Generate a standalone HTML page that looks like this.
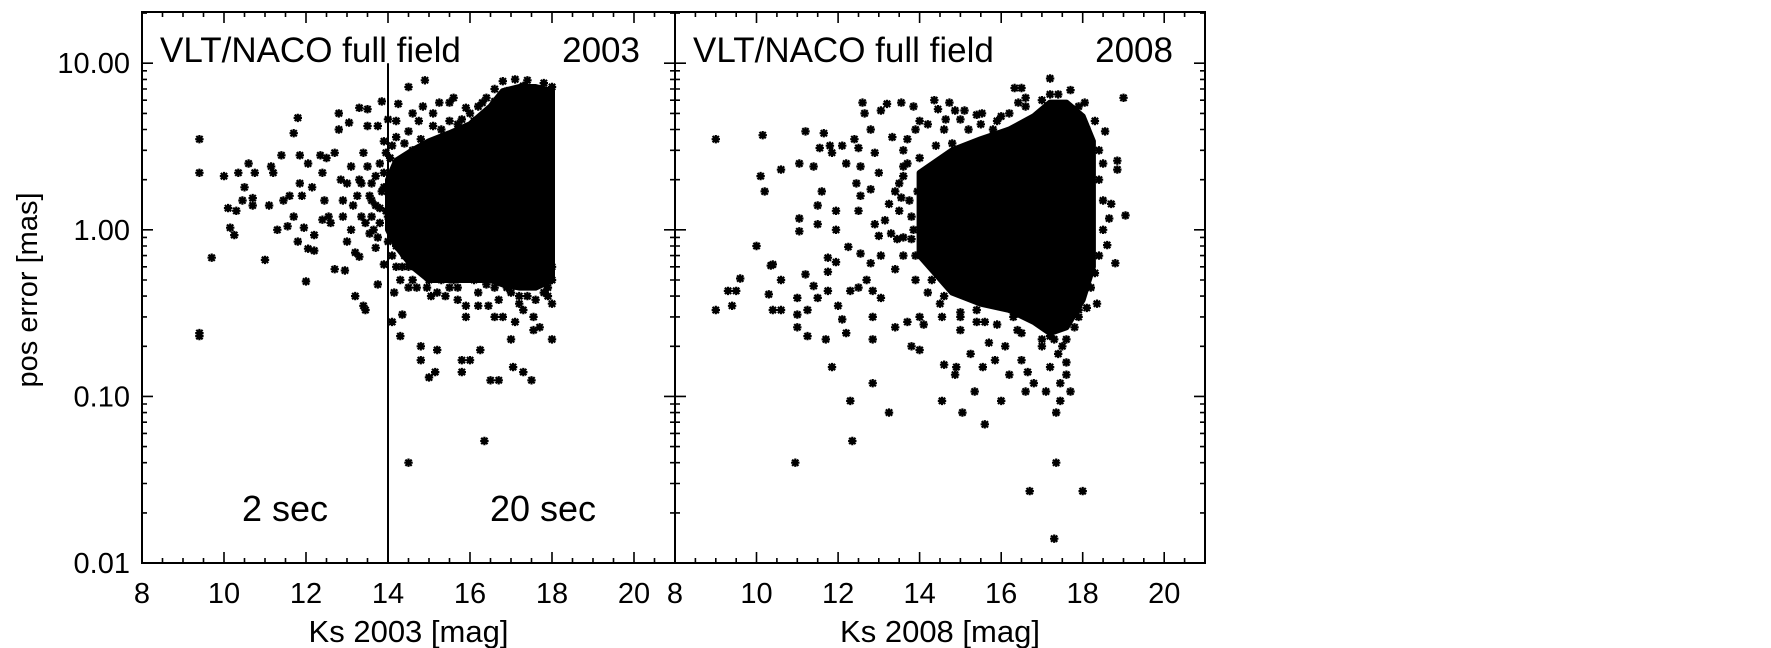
<!DOCTYPE html>
<html><head><meta charset="utf-8">
<style>
html,body{margin:0;padding:0;background:#fff;}
svg{display:block;font-family:"Liberation Sans",Arial,sans-serif;}
</style></head>
<body>
<svg id="chart" width="1771" height="648" viewBox="0 0 1771 648" xmlns="http://www.w3.org/2000/svg">
<rect width="1771" height="648" fill="#fff"/>
<g id="layer"></g>
</svg>
<script>
// ---- data ----
const xTicks = [8, 10, 12, 14, 16, 18, 20];
const yTicks = [0.01, 0.1, 1, 10];
const yTickLabels = ["0.01", "0.10", "1.00", "10.00"];

// 2003 scattered points [Ks, pos error mas]
const pts2003 = [
[9.4,3.5],[9.4,2.2],[9.4,0.24],[9.4,0.23],[9.7,0.68],[10,2.1],[10.1,1.35],[10.15,1.03],[10.25,0.93],[10.3,1.3],
[10.35,2.2],[10.45,1.5],[10.5,1.8],[10.6,2.5],[10.7,1.55],[10.75,2.2],[10.7,1.4],[11,0.66],[11.1,1.4],[11.15,2.4],
[11.2,2.2],[11.3,1.0],[11.4,2.8],[11.45,1.5],[11.55,1.05],[11.6,1.6],[11.7,3.8],[11.7,1.2],[11.8,0.85],[11.8,4.7],
[11.85,2.8],[11.85,1.9],[11.9,1.6],[11.95,1.03],[12.0,0.49],[12.05,2.5],[12.05,0.77],[12.15,1.8],[12.2,0.93],[12.2,0.75],
[12.35,2.8],[12.4,1.15],[12.4,2.2],[12.45,1.5],[12.5,2.7],[12.55,1.2],[12.6,1.1],[12.7,2.9],[12.7,0.58],[12.8,5.0],
[12.8,4.0],[12.85,2.0],[12.9,1.2],[12.95,0.57],[13.0,1.9],[13.0,0.85],[13.05,4.4],[13.1,1.0],[13.15,1.4],[13.2,0.73],
[13.2,0.4],[13.3,5.4],[13.3,2.0],[13.3,0.69],[13.35,1.9],[13.35,1.2],[13.4,2.9],[13.4,0.35],[13.45,0.33],[13.5,5.3],
[13.5,4.2],[13.55,0.95],[13.6,1.2],[13.6,1.9],[13.7,0.78],[13.7,1.4],[13.75,4.2],[13.7,2.1],[13.75,0.47],[13.8,1.1],
[13.8,2.5],[13.85,5.9],[13.85,1.7],[13.9,0.62],[13.9,3.4],[13.95,1.3],[13.95,2.9],[14.0,4.6],[14,0.85],[13.6,1.5],
[13.65,1.0],[13.8,1.35],[13.9,2.2],[13.5,2.4],[13.55,1.6],[13.25,1.6],[13.1,2.4],[12.9,1.5],[13.45,1.1],[13.75,0.9],
[14.05,2.7],[14.1,0.28],[14.15,0.42],[14.2,4.5],[14.2,0.6],[14.25,5.7],[14.3,0.5],[14.3,0.23],[14.35,0.31],[14.4,0.7],
[14.5,7.2],[14.5,0.45],[14.6,5.0],[14.65,0.6],[14.7,0.45],[14.75,4.5],[14.8,0.2],[14.8,0.165],[14.85,5.5],[14.9,7.9],
[14.95,0.45],[15.0,0.13],[15.05,0.4],[15.1,5.0],[15.15,0.14],[15.2,0.19],[15.25,5.8],[15.3,0.5],[15.4,0.4],[15.5,5.8],
[15.5,0.45],[15.6,6.2],[15.7,4.3],[15.7,0.38],[15.8,0.14],[15.8,0.165],[15.9,0.35],[15.9,0.3],[16.0,0.165],[16.0,5.0],
[16.1,4.5],[16.2,0.35],[16.25,0.19],[16.3,5.8],[16.3,0.54],[16.35,0.054],[16.4,0.47],[16.45,0.35],[16.5,0.125],[16.6,0.3],
[16.7,0.125],[16.8,0.3],[16.9,0.45],[17.0,0.22],[17.05,0.15],[17.1,0.28],[17.2,0.36],[17.3,0.14],[17.3,0.33],[17.5,0.125],
[17.55,0.25],[17.55,0.3],[17.7,0.26],[18.0,0.22],[18.0,0.36],[14.5,0.04],[14.3,1.5],[14.1,1.8],[14.0,1.2],[13.9,1.8],
[14.4,3.3],[14.8,3.5],[15.3,4],[15.8,4.6],[16.2,5.5],[16.6,7],[16.8,7.8],[17.1,8],[17.4,7.9],[17.8,7.6],[18,7.2],
[14.1,3.2],[14.3,2.6],[14.6,3.0],[15.0,3.3],[15.4,3.6],[16.0,4.0],[16.4,6.2],[14.2,0.8],[14.5,0.6],[15.0,0.5],
[15.6,0.5],[16.1,0.5],[16.6,0.45],[17.0,0.42],[17.4,0.4],[17.8,0.42],[18,0.5],[17.9,0.45],[18,0.6],[15.2,0.55],
[14.2,3.6],[14.5,3.9],[14.7,2.8],[15.1,4.2],[15.5,4.5],[15.9,5.4],[16.4,4.8],[16.6,5.9],[14.4,2.2],[14.9,2.9],
[15.3,3.1],[14.1,0.7],[14.35,0.6],[14.6,0.5],[15.2,0.42],[15.7,0.45],[16.2,0.42],[16.7,0.38],[17.2,0.4],[17.6,0.38],
[17.9,0.4],[16.9,6.8],[17.3,7.3],[17.6,6.9],[17.95,6.5]
];
// 2003 dense core envelope
const core2003X  = [14.0, 14.2, 14.6, 15.0, 15.5, 16.0, 16.5, 16.8, 17.2, 17.6, 18.0];
const core2003Hi = [2.0,  2.6,  3.0,  3.4,  3.8,  4.3,  5.5,  6.8,  7.2,  7.2,  6.8];
const core2003Lo = [1.0,  0.8,  0.6,  0.5,  0.5,  0.5,  0.5,  0.47, 0.45, 0.45, 0.5];

// 2008 scattered points
const pts2008 = [
[9.0,3.5],[10.15,3.7],[11.2,3.9],[11.65,3.8],[10.1,2.1],[10.2,1.7],[10.6,2.3],[11.05,2.5],[11.4,2.4],[11.55,3.1],
[11.8,3.2],[11.85,2.9],[12.1,3.2],[12.2,2.5],[12.4,3.5],[12.5,3.1],[12.55,2.4],[12.6,5.8],[12.65,5.0],[12.8,4.0],
[12.9,2.9],[13.0,2.2],[11.6,1.7],[11.95,1.3],[11.95,1.0],[11.5,1.4],[11.5,1.08],[11.05,1.17],[11.05,0.98],[12.45,1.9],
[12.55,1.6],[12.5,1.3],[12.8,1.75],[12.9,1.08],[10.0,0.8],[10.35,0.61],[10.4,0.62],[9.6,0.51],[9.3,0.43],[9.5,0.43],
[9.4,0.35],[9.0,0.33],[10.3,0.41],[10.4,0.33],[10.6,0.33],[10.6,0.5],[11.0,0.31],[11.0,0.39],[11.25,0.33],[11.0,0.26],
[11.25,0.23],[11.7,0.22],[11.2,0.54],[11.75,0.68],[11.95,0.64],[11.75,0.56],[11.75,0.43],[11.4,0.46],[11.5,0.39],[12.0,0.35],
[12.1,0.29],[12.2,0.24],[11.85,0.15],[12.85,0.12],[12.3,0.094],[13.25,0.08],[12.35,0.054],[10.95,0.04],[12.25,0.79],[12.55,0.72],
[12.8,0.63],[12.3,0.43],[12.5,0.45],[12.7,0.5],[12.85,0.43],[13.05,0.39],[12.85,0.3],[12.85,0.22],[13.4,0.26],[13.7,0.28],
[14.0,0.3],[14.1,0.27],[13.8,0.2],[14.0,0.19],[13.0,0.92],[13.45,0.88],[13.8,0.88],[13.05,0.7],[13.4,0.58],[13.15,1.14],
[13.25,1.43],[13.55,1.56],[13.95,1.7],[13.6,2.1],[13.05,5.2],[13.2,5.7],[13.55,5.8],[13.85,5.5],[14.0,4.5],[13.33,3.6],
[13.6,3.0],[14.0,2.7],[14.36,6.0],[14.45,5.3],[14.73,5.8],[14.87,5.2],[14.64,4.6],[15.1,5.2],[15.4,4.9],[15.53,5.0],
[15.9,4.5],[16.2,5.0],[16.33,7.1],[16.5,7.1],[16.42,5.8],[17.2,8.1],[17.7,6.9],[18.05,5.8],[19.0,6.2],[18.55,3.9],
[18.85,2.6],[18.85,2.3],[19.05,1.22],[18.7,1.43],[18.65,1.17],[18.8,0.63],[18.6,0.81],[18.35,0.36],[18.1,0.34],[14.55,0.3],
[14.6,0.155],[14.87,0.135],[14.9,0.15],[15.0,0.25],[15.25,0.18],[15.55,0.15],[15.85,0.165],[16.2,0.135],[16.5,0.165],[16.65,0.14],
[16.8,0.12],[17.1,0.107],[17.45,0.094],[17.7,0.107],[17.6,0.135],[16.6,0.107],[17.2,0.23],[17.3,0.22],[17.6,0.22],[17.8,0.26],
[16.8,0.3],[16.4,0.25],[16.1,0.2],[15.7,0.21],[15.4,0.33],[15.35,0.107],[16.0,0.094],[14.55,0.094],[15.05,0.08],[15.6,0.068],
[17.35,0.08],[17.35,0.04],[16.7,0.027],[18.0,0.027],[17.3,0.014],[14.2,1.2],[14.1,0.8],[14.3,0.5],[14.2,2.2],[13.8,1.2],
[13.6,0.7],[13.9,0.5],[14.4,3.2],[14.8,3.3],[15.2,4.0],[15.8,4.0],[16.6,5.5],[17.0,6.0],[17.4,6.5],[17.9,5.5],
[18.3,4.5],[18.4,3.0],[18.4,2.0],[18.5,1.0],[18.4,0.7],[18.2,0.45],[17.9,0.3],[17.4,0.18],[17.0,0.2],[16.3,0.3],
[15.6,0.28],[15.0,0.32],[14.6,0.4],[14.4,0.6],[13.5,1.3],[13.3,0.95],[13.7,2.5],[17.6,0.16],[17.45,0.12],[17.2,0.15],
[13.7,3.5],[13.9,4.0],[14.2,4.3],[14.6,4.0],[15.0,4.6],[15.5,4.3],[16.0,4.8],[16.6,6.2],[17.2,6.5],[17.8,5.0],
[18.1,4.0],[13.5,1.9],[13.75,1.5],[13.85,1.0],[13.6,0.9],[13.9,0.7],[14.2,0.42],[14.5,0.36],[15.0,0.3],[15.4,0.28],
[15.9,0.27],[16.5,0.24],[17.0,0.22],[17.5,0.2],[17.9,0.33],[18.3,0.55],[18.5,1.5],[18.5,2.5],[13.4,1.7],[13.6,2.4]
];
// 2008 dense core envelope
const core2008X  = [14.0, 14.8, 15.5, 16.2, 16.8, 17.2, 17.6, 18.0, 18.25];
const core2008Hi = [2.2,  3.0,  3.5,  4.0,  4.8,  5.8,  5.8,  4.8,  3.4];
const core2008Lo = [0.7,  0.42, 0.36, 0.33, 0.28, 0.24, 0.26, 0.38, 0.6];

// ---- layout ----
const NS = "http://www.w3.org/2000/svg";
const layer = document.getElementById('layer');
const topY = 12, bot = 563;
const yMinLog = -2, yMaxLog = Math.log10(20.3);
function Y(v){ return bot - (Math.log10(v) - yMinLog) / (yMaxLog - yMinLog) * (bot - topY); }
function mkX(x0, x1){ return v => x0 + (v - 8) / 13 * (x1 - x0); }
function el(tag, attrs, parent){ const e = document.createElementNS(NS, tag); for (const k in attrs) e.setAttribute(k, attrs[k]); (parent||layer).appendChild(e); return e; }

const panels = [
  {x0:142, x1:675, pts:pts2003, cx:core2003X, chi:core2003Hi, clo:core2003Lo, year:"2003", name:"panel-2003"},
  {x0:675, x1:1205, pts:pts2008, cx:core2008X, chi:core2008Hi, clo:core2008Lo, year:"2008", name:"panel-2008"}
];

panels.forEach((p, pi) => {
  const X = mkX(p.x0, p.x1);
  const g = el('g', {});
  
  
  let d = '';
  p.cx.forEach((v,i)=>{ d += (i?'L':'M') + X(v).toFixed(1) + ' ' + Y(p.chi[i]).toFixed(1); });
  for (let i = p.cx.length-1; i >= 0; i--) d += 'L' + X(p.cx[i]).toFixed(1) + ' ' + Y(p.clo[i]).toFixed(1);
  d += 'Z';
  const core = el('path', {d:d, fill:'#000', stroke:'#000', 'stroke-width':6, 'stroke-linejoin':'round'}, g);
  
  
  let pd = '';
  const r = 4.2;
  p.pts.forEach(([m, e]) => {
    const cx = X(m), cy = Y(e);
    pd += `M${(cx-r).toFixed(1)} ${cy.toFixed(1)}h${2*r}M${cx.toFixed(1)} ${(cy-r).toFixed(1)}v${2*r}` +
          `M${(cx-r*0.75).toFixed(1)} ${(cy-r*0.75).toFixed(1)}l${1.5*r} ${1.5*r}M${(cx-r*0.75).toFixed(1)} ${(cy+r*0.75).toFixed(1)}l${1.5*r} ${-1.5*r}`;
  });
  const sc = el('path', {d:pd, stroke:'#000', 'stroke-width':2.2, fill:'none'}, g);
  
  
  const fr = el('rect', {x:p.x0, y:topY, width:p.x1-p.x0, height:bot-topY, fill:'none', stroke:'#000', 'stroke-width':2}, g);
  
  
  let td = '';
  for (let v = 8.5; v < 21; v += 0.5) {
    const L = (Math.abs(v % 2) < 1e-6) ? 11 : 5;
    const x = X(v);
    td += `M${x.toFixed(1)} ${bot}v${-L}M${x.toFixed(1)} ${topY}v${L}`;
  }
  for (let dec = -2; dec <= 1; dec++) {
    for (let k = 1; k <= 9; k++) {
      const v = k * Math.pow(10, dec);
      if (Math.log10(v) > yMaxLog) break;
      const L = k === 1 ? 11 : 5;
      const y = Y(v);
      td += `M${p.x0} ${y.toFixed(1)}h${L}M${p.x1} ${y.toFixed(1)}h${-L}`;
    }
  }
  const tk = el('path', {d:td, stroke:'#000', 'stroke-width':1.6, fill:'none'}, g);
  
  
  xTicks.forEach(v => {
    const t = el('text', {x:X(v), y:603, 'font-size':29, 'text-anchor':'middle'}, g);
    t.textContent = v;
    
    
  });
  const xt = el('text', {x:(p.x0+p.x1)/2, y:642, 'font-size':31, 'text-anchor':'middle'}, g);
  xt.textContent = 'Ks ' + p.year + ' [mag]';
  
  
  const t1 = el('text', {x:p.x0+18, y:62, 'font-size':35}, g);
  t1.textContent = 'VLT/NACO full field';
  
  
  const t2 = el('text', {x:p.x0+498, y:62, 'font-size':35, 'text-anchor':'end'}, g);
  t2.textContent = p.year;
  
  
});

yTicks.forEach((v,i) => {
  const t = el('text', {x:130, y:Y(v)+10, 'font-size':29, 'text-anchor':'end'});
  t.textContent = yTickLabels[i];
  
  
});
const yt = el('text', {x:0, y:0, 'font-size':29, 'text-anchor':'middle', transform:'translate(37,290) rotate(-90)'});
yt.textContent = 'pos error [mas]';



const X0 = mkX(142, 675);
const dv = el('line', {x1:X0(14), x2:X0(14), y1:Y(10), y2:bot, stroke:'#000', 'stroke-width':2});


const s1 = el('text', {x:285, y:521, 'font-size':36, 'text-anchor':'middle'});
s1.textContent = '2 sec';


const s2 = el('text', {x:543, y:521, 'font-size':36, 'text-anchor':'middle'});
s2.textContent = '20 sec';


</script>
</body></html>
